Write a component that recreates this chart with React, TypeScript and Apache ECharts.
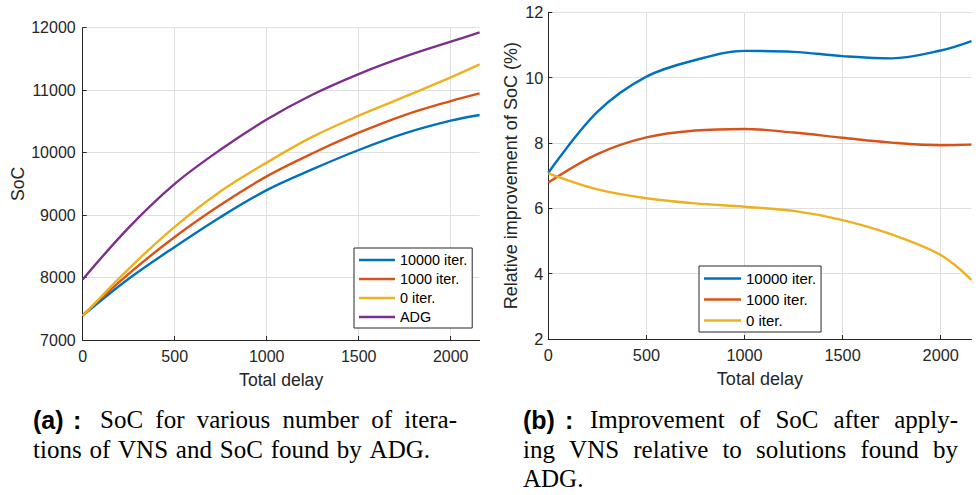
import React, { useEffect, useRef } from "react";
import * as echarts from "echarts";

// ---------- data ----------
const delayA = [0, 250, 500, 750, 1000, 1250, 1500, 1750, 2000, 2157];
const soc10000 = [7390, 7980, 8490, 8970, 9400, 9735, 10042, 10308, 10511, 10602];
const soc1000 = [7400, 8060, 8650, 9166, 9620, 9990, 10319, 10602, 10826, 10949];
const soc0 = [7385, 8140, 8810, 9380, 9840, 10255, 10591, 10895, 11205, 11413];
const socADG = [7970, 8800, 9500, 10050, 10530, 10930, 11258, 11536, 11776, 11925];

const delayB = [0, 250, 500, 750, 1000, 1250, 1500, 1750, 2000, 2157];
const imp10000 = [7.09, 8.95, 10.03, 10.54, 10.82, 10.79, 10.66, 10.59, 10.83, 11.12];
const imp1000 = [6.79, 7.66, 8.17, 8.38, 8.43, 8.32, 8.16, 8.01, 7.93, 7.95];
const imp0 = [7.07, 6.58, 6.31, 6.15, 6.05, 5.92, 5.64, 5.2, 4.57, 3.81];

const xTicks = [0, 500, 1000, 1500, 2000];
const names = ["10000 iter.", "1000 iter.", "0 iter.", "ADG"];
const colors = ["#0072BD", "#D95319", "#EDB120", "#7E2F8E"];

const captionA = [
  "SoC for various number of itera-",
  "tions of VNS and SoC found by ADG.",
];
const captionB = [
  "Improvement of SoC after apply-",
  "ing VNS relative to solutions found by",
  "ADG.",
];

const AX = "#262626";
const GRID = "#dfdfdf";
const SANS = "Liberation Sans";
const SERIF = "Liberation Serif";

function zip(xs: number[], ys: number[]) {
  return xs.map((x, i) => [x, ys[i]]);
}

function measure(text: string, font: string) {
  const c = document.createElement("canvas").getContext("2d")!;
  c.font = font;
  return c.measureText(text).width;
}

function justifiedLine(text: string, x0: number, x1: number | null, y: number, size: number) {
  const font = `${size}px "${SERIF}"`;
  const words = text.split(" ");
  const widths = words.map((w) => measure(w, font));
  const total = widths.reduce((a, b) => a + b, 0);
  const space = x1 === null || words.length < 2 ? measure(" ", font) : (x1 - x0 - total) / (words.length - 1);
  let x = x0;
  return words.map((w, i) => {
    const el = {
      type: "text",
      x,
      y,
      style: {
        text: w,
        fontFamily: SERIF,
        fontSize: size,
        fill: "#000",
        align: "left",
        verticalAlign: "middle",
      },
    };
    x += widths[i] + space;
    return el;
  });
}

function boldLabel(text: string, x: number, y: number, size: number) {
  return {
    type: "text",
    x,
    y,
    style: {
      text,
      fontFamily: SANS,
      fontWeight: "bold",
      fontSize: size,
      fill: "#000",
      align: "left",
      verticalAlign: "middle",
    },
  };
}

const plain = (v: number) => String(v);

function xAxisCfg(gridIndex: number, fs: number, nfs: number) {
  return {
    type: "value",
    gridIndex,
    min: 0,
    max: 2157,
    interval: 500,
    name: "Total delay",
    nameLocation: "middle",
    nameGap: 31,
    nameTextStyle: { fontFamily: SANS, fontSize: nfs, color: AX },
    axisLine: { show: true, onZero: false, lineStyle: { color: AX, width: 1 } },
    axisTick: { show: true, inside: true, length: 4, lineStyle: { color: AX }, customValues: xTicks },
    axisLabel: { fontFamily: SANS, fontSize: fs, color: AX, margin: 8, customValues: xTicks, formatter: plain },
    splitLine: { show: true, lineStyle: { color: GRID, width: 1 } },
  };
}

function yAxisCfg(gridIndex: number, min: number, max: number, interval: number, name: string, gap: number, margin: number, fs: number, nfs: number) {
  return {
    type: "value",
    gridIndex,
    min,
    max,
    interval,
    name,
    nameLocation: "middle",
    nameGap: gap,
    nameTextStyle: { fontFamily: SANS, fontSize: nfs, color: AX },
    axisLine: { show: true, onZero: false, lineStyle: { color: AX, width: 1 } },
    axisTick: { show: true, inside: true, length: 4, lineStyle: { color: AX } },
    axisLabel: { fontFamily: SANS, fontSize: fs, color: AX, margin, formatter: plain },
    splitLine: { show: true, lineStyle: { color: GRID, width: 1 } },
  };
}

function lineSeries(name: string, color: string, data: number[][], idx: number) {
  return {
    type: "line",
    name,
    xAxisIndex: idx,
    yAxisIndex: idx,
    data,
    smooth: 0.35,
    symbol: "none",
    showSymbol: false,
    lineStyle: { color, width: 2.4 },
    itemStyle: { color },
    z: 3,
  };
}

function legendCfg(data: string[], left: number, top: number, itemWidth: number, itemGap: number, fs: number) {
  return {
    data,
    orient: "vertical",
    left,
    top,
    icon: "rect",
    itemWidth,
    itemHeight: 2.4,
    itemGap,
    padding: [5, 5, 4, 5],
    borderColor: AX,
    borderWidth: 1,
    borderRadius: 0,
    backgroundColor: "#fff",
    textStyle: { fontFamily: SANS, fontSize: fs, color: "#000", lineHeight: 14 },
    selectedMode: false,
  };
}

export default function App() {
  const ref = useRef<HTMLDivElement>(null);
  useEffect(() => {
    if (!ref.current) return;
    const chart = echarts.init(ref.current, undefined, { renderer: "svg" });
    const capSize = 25;
    const graphic: any[] = [
      boldLabel("(a)", 33, 419.6, capSize),
      boldLabel(":", 73, 419.6, capSize),
      ...justifiedLine(captionA[0], 100, 457, 419.6, capSize),
      ...justifiedLine(captionA[1], 33, 430, 449.6, capSize),
      boldLabel("(b)", 523, 419.6, capSize),
      boldLabel(":", 565, 419.6, capSize),
      ...justifiedLine(captionB[0], 590, 958, 419.6, capSize),
      ...justifiedLine(captionB[1], 523, 958, 449.6, capSize),
      ...justifiedLine(captionB[2], 523, null, 478.6, capSize),
    ];
    chart.setOption({
      animation: false,
      backgroundColor: "#fff",
      grid: [
        { left: 82.7, top: 27.7, width: 396.9, height: 312.3, containLabel: false },
        { left: 548.3, top: 12.3, width: 423.2, height: 326.7, containLabel: false },
      ],
      xAxis: [xAxisCfg(0, 16, 17.6), xAxisCfg(1, 16.3, 18)],
      yAxis: [
        yAxisCfg(0, 7000, 12000, 1000, "SoC", 54, 7, 16, 17.6),
        yAxisCfg(1, 2, 12, 2, "Relative improvement of SoC (%)", 28, 5, 16.3, 18),
      ],
      legend: [
        legendCfg(names, 354, 248, 36, 5, 14.4),
        legendCfg(names.slice(0, 3), 699, 266, 37, 6, 15),
      ],
      series: [
        lineSeries(names[0], colors[0], zip(delayA, soc10000), 0),
        lineSeries(names[1], colors[1], zip(delayA, soc1000), 0),
        lineSeries(names[2], colors[2], zip(delayA, soc0), 0),
        lineSeries(names[3], colors[3], zip(delayA, socADG), 0),
        lineSeries(names[0], colors[0], zip(delayB, imp10000), 1),
        lineSeries(names[1], colors[1], zip(delayB, imp1000), 1),
        lineSeries(names[2], colors[2], zip(delayB, imp0), 1),
      ],
      graphic,
    });
    return () => chart.dispose();
  }, []);
  return (
    <div
      ref={ref}
      style={{ position: "absolute", left: 0, top: 0, width: 978, height: 495, background: "#fff" }}
    />
  );
}
